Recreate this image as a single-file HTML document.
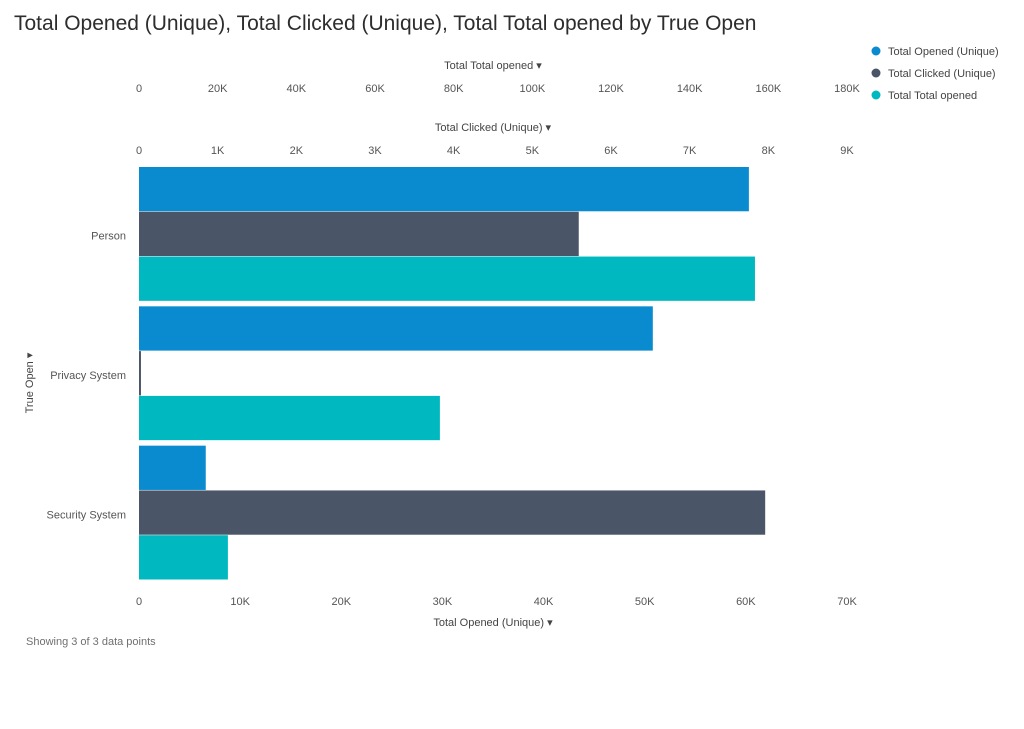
<!DOCTYPE html>
<html><head><meta charset="utf-8"><style>
body{margin:0;background:#fff;font-family:"Liberation Sans",sans-serif;}
svg text{font-family:"Liberation Sans",sans-serif;}
</style></head><body>
<svg width="1024" height="724" xmlns="http://www.w3.org/2000/svg">
<text x="14" y="30" font-size="21" fill="#2d2d2d">Total Opened (Unique), Total Clicked (Unique), Total Total opened by True Open</text>
<g id="legend"></g>
<g id="axes"></g>
<g id="bars"></g>
<text x="26" y="645" font-size="11" fill="#707070">Showing 3 of 3 data points</text>
<text transform="translate(33,383) rotate(-90)" text-anchor="middle" font-size="11" fill="#444">True Open ▾</text>
</svg>
<script>
const categories=["Person","Privacy System","Security System"];
const opened=[60300,50800,6600];
const clicked=[5590,25,7960];
const totalOpened=[156600,76500,22600];
const seriesNames=["Total Opened (Unique)","Total Clicked (Unique)","Total Total opened"];
const colors=["#0a8bcf","#4a5568","#00b9c0"];
const maxes=[70000,9000,180000];
const openedTicks=[0,10000,20000,30000,40000,50000,60000,70000];
const clickedTicks=[0,1000,2000,3000,4000,5000,6000,7000,8000,9000];
const totalTicks=[0,20000,40000,60000,80000,100000,120000,140000,160000,180000];
const NS="http://www.w3.org/2000/svg";
const X0=139,X1=847,Y0=166,Y1=584;
function sx(v,m){return X0+(v/m)*(X1-X0);}
const band=(Y1-Y0)/categories.length;
function mk(t,a,p){const e=document.createElementNS(NS,t);for(const k in a)e.setAttribute(k,a[k]);p.appendChild(e);return e;}
function fmt(v){return v===0?"0":(v/1000)+"K";}
const axes=document.getElementById("axes"),bars=document.getElementById("bars"),leg=document.getElementById("legend");
function axis(ticks,m,y,title,ty,name){
 ticks.forEach(t=>{const e=mk("text",{x:sx(t,m),y:y,"text-anchor":"middle","font-size":"11",fill:"#555"},axes);e.textContent=fmt(t);
 
 });
 const e=mk("text",{x:(X0+X1)/2,y:ty,"text-anchor":"middle","font-size":"11",fill:"#444"},axes);e.textContent=title+" ▾";
 
 
}
axis(totalTicks,maxes[2],92,"Total Total opened",69,"total-opened-axis");
axis(clickedTicks,maxes[1],154,"Total Clicked (Unique)",131,"clicked-axis");
axis(openedTicks,maxes[0],605,"Total Opened (Unique)",626,"opened-axis");
const series=[opened,clicked,totalOpened];
categories.forEach((c,i)=>{
 const by=Y0+i*band;
 const l=mk("text",{x:126,y:by+band/2+4,"text-anchor":"end","font-size":"11",fill:"#555"},axes);l.textContent=c;
 
 
 const bh=(band-5)/3;
 series.forEach((s,j)=>{
  const w=Math.max(sx(s[i],maxes[j])-X0,1.5);
  const r=mk("rect",{x:X0,y:by+1+j*bh,width:w,height:bh-0.5,fill:colors[j]},bars);
  
  
 });
});
seriesNames.forEach((n,j)=>{
 const y=51+j*22;
 const c=mk("circle",{cx:876,cy:y,r:4.5,fill:colors[j]},leg);
 
 
 const t=mk("text",{x:888,y:y+4,"font-size":"11",fill:"#444"},leg);t.textContent=n;
 
 
});
</script>
</body></html>
